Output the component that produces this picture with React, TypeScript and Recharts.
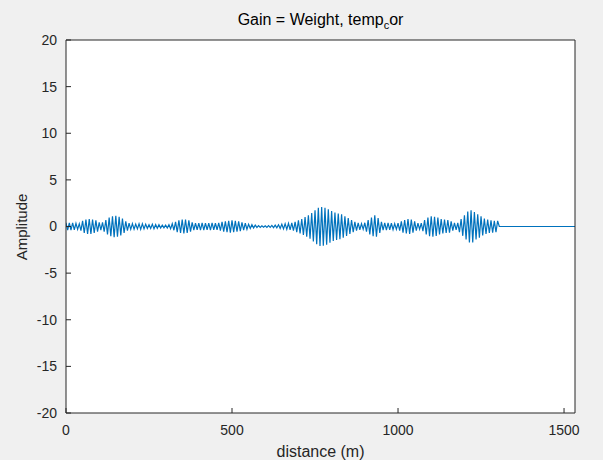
import { CartesianGrid, Line, LineChart, XAxis, YAxis } from "recharts";

// signal samples every 5 m from 0 to 1300 m
const sampleStep = 5;
const amplitude = [
  0.4, -0.4, 0.4, -0.4, 0.4, -0.35, 0.35, -0.3, 0.3, -0.45,
  0.6, -0.7, 0.75, -0.8, 0.8, -0.8, 0.75, -0.7, 0.65, -0.55,
  0.45, -0.4, 0.45, -0.55, 0.7, -0.85, 0.95, -1.05, 1.1, -1.15,
  1.15, -1.1, 1.05, -0.95, 0.85, -0.7, 0.55, -0.45, 0.35, -0.3,
  0.3, -0.3, 0.25, -0.25, 0.3, -0.3, 0.3, -0.25, 0.25, -0.2,
  0.2, -0.2, 0.25, -0.25, 0.2, -0.2, 0.2, -0.15, 0.15, -0.15,
  0.15, -0.15, 0.2, -0.25, 0.3, -0.4, 0.5, -0.6, 0.65, -0.7,
  0.75, -0.75, 0.75, -0.7, 0.65, -0.55, 0.45, -0.4, 0.35, -0.35,
  0.35, -0.4, 0.4, -0.4, 0.35, -0.35, 0.35, -0.4, 0.4, -0.35,
  0.35, -0.35, 0.4, -0.45, 0.5, -0.55, 0.55, -0.6, 0.6, -0.65,
  0.65, -0.6, 0.6, -0.55, 0.55, -0.5, 0.45, -0.4, 0.35, -0.3,
  0.25, -0.2, 0.2, -0.15, 0.15, -0.1, 0.1, -0.1, 0.08, -0.08,
  0.08, -0.1, 0.1, -0.1, 0.12, -0.12, 0.15, -0.15, 0.18, -0.2,
  0.25, -0.25, 0.3, -0.3, 0.35, -0.35, 0.4, -0.45, 0.5, -0.6,
  0.65, -0.75, 0.8, -0.9, 1.0, -1.1, 1.2, -1.3, 1.45, -1.6,
  1.75, -1.9, 2.0, -2.1, 2.1, -2.05, 2.0, -1.95, 1.85, -1.75,
  1.65, -1.55, 1.5, -1.45, 1.4, -1.35, 1.3, -1.2, 1.1, -1.0,
  0.9, -0.8, 0.7, -0.6, 0.5, -0.45, 0.4, -0.35, 0.3, -0.3,
  0.4, -0.55, 0.7, -0.85, 0.95, -1.05, 1.2, -1.1, 0.9, -0.7,
  0.5, -0.4, 0.4, -0.4, 0.4, -0.35, 0.35, -0.35, 0.3, -0.3,
  0.35, -0.45, 0.55, -0.65, 0.7, -0.75, 0.8, -0.8, 0.75, -0.65,
  0.55, -0.45, 0.35, -0.3, 0.35, -0.5, 0.7, -0.85, 0.95, -1.05,
  1.1, -1.1, 1.05, -1.0, 0.95, -0.85, 0.8, -0.75, 0.75, -0.7,
  0.7, -0.65, 0.55, -0.45, 0.4, -0.35, 0.4, -0.6, 0.8, -1.0,
  1.2, -1.4, 1.6, -1.7, 1.75, -1.7, 1.55, -1.4, 1.3, -1.2,
  1.1, -0.95, 0.85, -0.8, 0.75, -0.7, 0.65, -0.65, 0.6, -0.6,
  0.6,
];
// flat zero tail after the signal ends
const tailDistance = [1305, 1533];
const tailAmplitude = [0, 0];

const xTicks = [0, 500, 1000, 1500];
const yTicks = [-20, -15, -10, -5, 0, 5, 10, 15, 20];

const data = [
  ...amplitude.map((a, i) => ({ distance: i * sampleStep, amp: a })),
  ...tailDistance.map((d, i) => ({ distance: d, amp: tailAmplitude[i] })),
];

const axisColor = "#262626";
const font = "'Liberation Sans', Arial, sans-serif";

export default function App() {
  return (
    <div style={{ position: "relative", width: 603, height: 460, background: "#f0f0f0", fontFamily: font }}>
      <style>{"body{margin:0}"}</style>
      <LineChart
        width={603}
        height={460}
        data={data}
        margin={{ top: 30, right: 18, bottom: 7, left: 16 }}
      >
        <CartesianGrid horizontal={false} vertical={false} fill="#ffffff" />
        <XAxis
          dataKey="distance"
          type="number"
          domain={[0, 1533]}
          ticks={xTicks}
          height={40}
          tickSize={-5}
          tickMargin={17}
          stroke={axisColor}
          tick={{ fill: axisColor, fontSize: 14, fontFamily: font }}
          allowDataOverflow
        />
        <XAxis
          xAxisId="top"
          dataKey="distance"
          type="number"
          orientation="top"
          domain={[0, 1533]}
          ticks={xTicks}
          height={10}
          tickSize={-5}
          tick={false}
          stroke={axisColor}
          allowDataOverflow
        />
        <YAxis
          domain={[-20, 20]}
          ticks={yTicks}
          width={50}
          tickSize={-5}
          tickMargin={14}
          stroke={axisColor}
          tick={{ fill: axisColor, fontSize: 14, fontFamily: font }}
          allowDataOverflow
        />
        <YAxis
          yAxisId="right"
          orientation="right"
          domain={[-20, 20]}
          ticks={yTicks}
          width={10}
          tickSize={-5}
          tick={false}
          stroke={axisColor}
          allowDataOverflow
        />
        <Line
          dataKey="amp"
          type="linear"
          stroke="#0072BD"
          strokeWidth={1.2}
          dot={false}
          isAnimationActive={false}
        />
      </LineChart>
      <div style={{ position: "absolute", left: 0, width: 641, top: 11, textAlign: "center", fontSize: 16, color: "#000", lineHeight: "18px" }}>
        Gain = Weight, temp<sub style={{ fontSize: 11, lineHeight: 0 }}>c</sub>or
      </div>
      <div style={{ position: "absolute", left: 0, width: 641, top: 443, textAlign: "center", fontSize: 16, color: axisColor }}>
        distance (m)
      </div>
      <div
        style={{
          position: "absolute",
          left: 21,
          top: 227,
          transform: "translate(-50%, -50%) rotate(-90deg)",
          fontSize: 15,
          color: axisColor,
          whiteSpace: "nowrap",
        }}
      >
        Amplitude
      </div>
    </div>
  );
}
